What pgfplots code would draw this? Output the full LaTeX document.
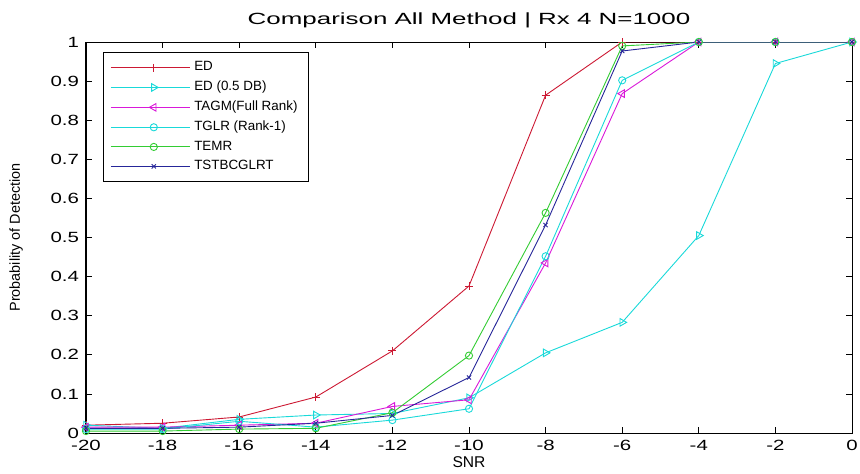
\documentclass[border=0pt]{standalone}
\usepackage{fontspec}
\setmainfont{Liberation Sans}[FakeStretch=1.38]
\newfontfamily\plainsans{Liberation Sans}
\newfontfamily\titlesans{Liberation Sans}[FakeStretch=1.6]
\usepackage{pgfplots}
\pgfplotsset{compat=1.18}

\definecolor{mred}{rgb}{0.8,0.1,0.2}
\definecolor{mcyan}{rgb}{0.1,0.85,0.85}
\definecolor{mmag}{rgb}{0.85,0.1,0.85}
\definecolor{mgreen}{rgb}{0.2,0.8,0.2}
\definecolor{mblue}{rgb}{0.15,0.15,0.6}

\begin{document}
\begin{tikzpicture}
\begin{axis}[
    name=ax,
    scale only axis,
    width=383pt, height=195.5pt,
    xmin=-20, xmax=0, ymin=0, ymax=1,
    xtick={-20,-18,...,0},
    ytick={0,0.1,...,1},
    yticklabels={0,0.1,0.2,0.3,0.4,0.5,0.6,0.7,0.8,0.9,1},
    tick align=inside,
    major tick length=3pt,
    tick style={black, line width=0.4pt},
    axis line style={line width=0.5pt},
    /pgf/number format/assume math mode=true,
    tick label style={font=\fontsize{7.4}{8}\selectfont},
    title={Comparison All Method | Rx 4 N=1000},
    title style={font=\titlesans\fontsize{8.1}{9}\selectfont, yshift=-2.5pt},
    xlabel={SNR},
    xlabel style={font=\plainsans\fontsize{7.8}{8}\selectfont, yshift=4pt},
    ylabel={Probability of Detection},
    ylabel style={font=\plainsans\fontsize{7.2}{8}\selectfont, yshift=7pt},
    every axis plot/.append style={line width=0.45pt},
    mark options={solid, line width=0.45pt},
    legend style={at={(0.022,0.974)}, anchor=north west, draw=black,
        line width=0.5pt, font=\plainsans\fontsize{6.7}{8}\selectfont,
        row sep=-0.4pt, inner xsep=3.5pt, inner ysep=2.5pt, cells={anchor=west}},
    legend image code/.code={
        \path (-3.5pt,0pt) -- (36pt,0pt);
        \draw[mark repeat=2, mark phase=2, #1] plot coordinates {(0pt,0pt) (18pt,0pt) (36pt,0pt)};
    },
]
\addplot[mred, mark=+, mark size=2pt] coordinates {
(-20,0.02) (-18,0.025) (-16,0.041) (-14,0.092) (-12,0.21) (-10,0.376)
(-8,0.864) (-6,1.0) (-4,1.0) (-2,1.0) (0,1.0)};
\addlegendentry{ED}
\addplot[mcyan, mark=triangle, mark options={rotate=-90}, mark size=2.2pt] coordinates {
(-20,0.02) (-18,0.012) (-16,0.035) (-14,0.046) (-12,0.05) (-10,0.09)
(-8,0.205) (-6,0.283) (-4,0.505) (-2,0.945) (0,1.0)};
\addlegendentry{ED (0.5 DB)}
\addplot[mmag, mark=triangle, mark options={rotate=90}, mark size=2.2pt] coordinates {
(-20,0.015) (-18,0.015) (-16,0.02) (-14,0.025) (-12,0.068) (-10,0.085)
(-8,0.435) (-6,0.868) (-4,1.0) (-2,1.0) (0,1.0)};
\addlegendentry{TAGM(Full Rank)}
\addplot[mcyan, mark=o, mark size=1.8pt] coordinates {
(-20,0.01) (-18,0.01) (-16,0.03) (-14,0.015) (-12,0.033) (-10,0.062)
(-8,0.452) (-6,0.902) (-4,1.0) (-2,1.0) (0,1.0)};
\addlegendentry{TGLR (Rank-1)}
\addplot[mgreen, mark=o, mark size=1.8pt] coordinates {
(-20,0.005) (-18,0.005) (-16,0.01) (-14,0.012) (-12,0.052) (-10,0.198)
(-8,0.563) (-6,0.99) (-4,1.0) (-2,1.0) (0,1.0)};
\addlegendentry{TEMR}
\addplot[mblue, mark=x, mark size=1.5pt] coordinates {
(-20,0.012) (-18,0.012) (-16,0.015) (-14,0.025) (-12,0.045) (-10,0.142)
(-8,0.532) (-6,0.977) (-4,1.0) (-2,1.0) (0,1.0)};
\addlegendentry{TSTBCGLRT}
\end{axis}
\pgfresetboundingbox
\path ([xshift=-43pt,yshift=-20pt]ax.south west) rectangle ([xshift=4pt,yshift=21pt]ax.north east);
\end{tikzpicture}
\end{document}
